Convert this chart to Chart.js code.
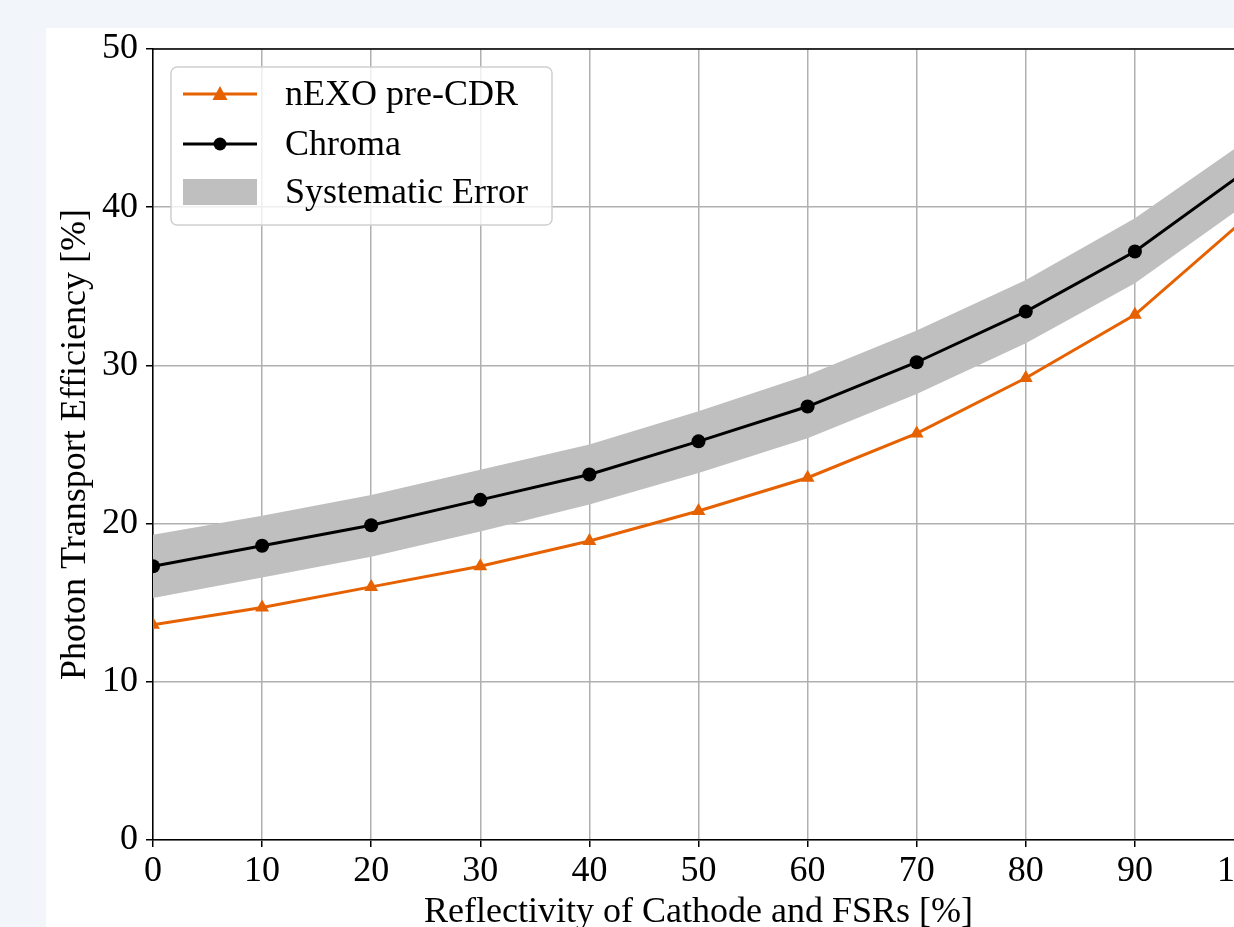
<!DOCTYPE html>
<html>
<head>
<meta charset="utf-8">
<script src="https://cdn.jsdelivr.net/npm/chart.js@4.4.1/dist/chart.umd.min.js"></script>
<style>
  html, body { margin: 0; padding: 0; background: #f2f5f9; overflow: hidden; }
  #panel { position: absolute; left: 46px; top: 28px; width: 1240px; height: 910px; background: #fff; }
  #chart { position: absolute; left: 0; top: -5px; }
</style>
</head>
<body>
<div id="panel"><canvas id="chart" width="1240" height="915"></canvas></div>
<script>
// --- data ---
const reflectivity = [0, 10, 20, 30, 40, 50, 60, 70, 80, 90, 100];
const nexoPreCDR   = [13.6, 14.7, 16.0, 17.3, 18.9, 20.8, 22.9, 25.7, 29.2, 33.2, 39.2];
const chroma       = [17.3, 18.6, 19.9, 21.5, 23.1, 25.2, 27.4, 30.2, 33.4, 37.2, 42.2];
const errUpper     = [19.3, 20.5, 21.8, 23.4, 25.0, 27.1, 29.4, 32.2, 35.4, 39.3, 44.1];
const errLower     = [15.3, 16.6, 17.9, 19.5, 21.2, 23.2, 25.4, 28.2, 31.4, 35.2, 40.1];
const legendLabels = ["nEXO pre-CDR", "Chroma", "Systematic Error"];

const ORANGE = "#e66100";
const BAND = "#bfbfbf";
const FONT = "'Liberation Serif', 'DejaVu Serif', serif";
const FSIZE = 36;

const pts = ys => reflectivity.map((x, i) => ({ x: x, y: ys[i] }));

// frame on top + legend drawn inside the axes, matplotlib style
const framePlugin = {
    id: "frame",
    afterDraw(chart) {
        const ctx = chart.ctx;
        const a = chart.chartArea;
        ctx.save();
        ctx.strokeStyle = "#000";
        ctx.lineWidth = 1.5;
        ctx.beginPath();
        ctx.moveTo(a.left, a.top);
        ctx.lineTo(a.right, a.top);
        ctx.lineTo(a.right, a.bottom);
        ctx.stroke();

        // legend box
        const bx = a.left + 18, by = a.top + 18, bw = 381, bh = 158;
        ctx.fillStyle = "rgba(255,255,255,0.8)";
        ctx.strokeStyle = "#d0d0d0";
        ctx.lineWidth = 1.5;
        ctx.beginPath();
        ctx.roundRect(bx, by, bw, bh, 6);
        ctx.fill();
        ctx.stroke();

        const lx0 = bx + 12, lx1 = bx + 86, mx = (lx0 + lx1) / 2, tx = bx + 114;
        const rows = [by + 27, by + 77, by + 125];
        ctx.font = FSIZE + "px " + FONT;
        ctx.textBaseline = "middle";

        // nEXO
        ctx.strokeStyle = ORANGE; ctx.lineWidth = 3;
        ctx.beginPath(); ctx.moveTo(lx0, rows[0]); ctx.lineTo(lx1, rows[0]); ctx.stroke();
        ctx.fillStyle = ORANGE;
        ctx.beginPath();
        ctx.moveTo(mx, rows[0] - 8); ctx.lineTo(mx + 7.5, rows[0] + 6); ctx.lineTo(mx - 7.5, rows[0] + 6);
        ctx.closePath(); ctx.fill();
        // Chroma
        ctx.strokeStyle = "#000";
        ctx.beginPath(); ctx.moveTo(lx0, rows[1]); ctx.lineTo(lx1, rows[1]); ctx.stroke();
        ctx.fillStyle = "#000";
        ctx.beginPath(); ctx.arc(mx, rows[1], 6.5, 0, Math.PI * 2); ctx.fill();
        // band
        ctx.fillStyle = BAND;
        ctx.fillRect(lx0, rows[2] - 13, lx1 - lx0, 26);

        ctx.fillStyle = "#000";
        legendLabels.forEach((t, i) => ctx.fillText(t, tx, rows[i] + 2));
        ctx.restore();
    }
};

new Chart(document.getElementById("chart").getContext("2d"), {
    type: "line",
    data: {
        datasets: [
            {
                label: legendLabels[1],
                data: pts(chroma),
                borderColor: "#000",
                backgroundColor: "#000",
                borderWidth: 3,
                pointStyle: "circle",
                pointRadius: 7,
                pointBorderWidth: 0,
                fill: false,
                tension: 0
            },
            {
                label: legendLabels[0],
                data: pts(nexoPreCDR),
                borderColor: ORANGE,
                backgroundColor: ORANGE,
                borderWidth: 3,
                pointStyle: "triangle",
                pointRadius: 8,
                pointBorderWidth: 0,
                fill: false,
                tension: 0
            },
            {
                label: "upper",
                data: pts(errUpper),
                borderWidth: 0,
                borderColor: "rgba(0,0,0,0)",
                pointRadius: 0,
                backgroundColor: BAND,
                fill: "+1",
                tension: 0
            },
            {
                label: "lower",
                data: pts(errLower),
                borderWidth: 0,
                borderColor: "rgba(0,0,0,0)",
                pointRadius: 0,
                fill: false,
                tension: 0
            }
        ]
    },
    options: {
        responsive: false,
        animation: false,
        layout: { padding: { top: 20, right: 42, left: 0, bottom: 0 } },
        plugins: { legend: { display: false }, tooltip: { enabled: false } },
        scales: {
            x: {
                type: "linear",
                min: 0, max: 100,
                ticks: { stepSize: 10, color: "#000", font: { family: FONT, size: FSIZE, lineHeight: 1 }, padding: 7, maxRotation: 0 },
                grid: { color: "#b0b0b0", lineWidth: 1.5, tickColor: "#000", tickLength: 7 },
                border: { color: "#000", width: 1.5 },
                title: { display: true, text: "Reflectivity of Cathode and FSRs [%]", color: "#000", font: { family: FONT, size: FSIZE, lineHeight: 1 }, padding: { top: 0, bottom: 7 } },
                afterFit(s) { s.height = 98; }
            },
            y: {
                min: 0, max: 50,
                ticks: { stepSize: 10, color: "#000", font: { family: FONT, size: FSIZE, lineHeight: 1 }, padding: 8 },
                grid: { color: "#b0b0b0", lineWidth: 1.5, tickColor: "#000", tickLength: 7 },
                border: { color: "#000", width: 1.5 },
                title: { display: true, text: "Photon Transport Efficiency [%]", color: "#000", font: { family: FONT, size: FSIZE, lineHeight: 1 }, padding: { top: 12, bottom: 0 } },
                afterFit(s) { s.width = 107; }
            }
        }
    },
    plugins: [framePlugin]
});
</script>
</body>
</html>
